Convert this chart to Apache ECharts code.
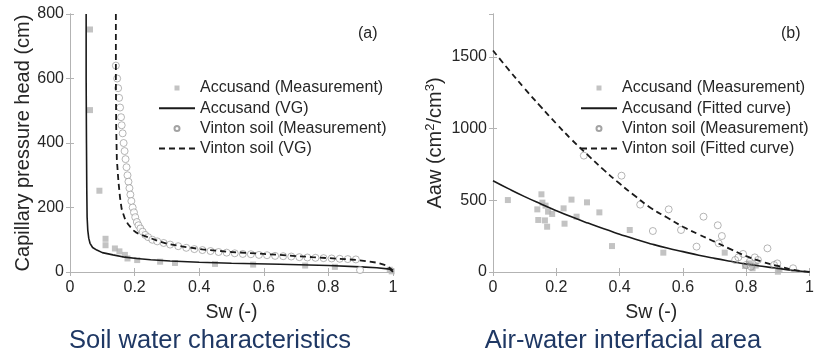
<!DOCTYPE html>
<html>
<head>
<meta charset="utf-8">
<script src="https://cdn.jsdelivr.net/npm/echarts@6/dist/echarts.min.js"></script>
<style>
  html, body { margin: 0; padding: 0; background: #fff; }
  #chart { width: 817px; height: 355px; }
</style>
</head>
<body>
<div id="chart"></div>
<script>
// ---- (a) Soil water characteristics: [Sw, capillary pressure head (cm)] ----
const accusandMeasA = [
  [0.062, 752], [0.062, 502], [0.091, 252], [0.110, 103], [0.110, 83], [0.139, 73],
  [0.153, 64], [0.170, 53], [0.178, 42], [0.208, 37], [0.279, 32], [0.325, 28],
  [0.449, 25], [0.567, 23], [0.728, 20], [0.820, 16], [0.990, 7], [0.996, 2]
];
const accusandVG = [
  [0.050, 800], [0.050, 600], [0.051, 400], [0.052, 250], [0.053, 170], [0.055, 130],
  [0.058, 105], [0.062, 89], [0.070, 76], [0.083, 68], [0.100, 60], [0.133, 53],
  [0.170, 46], [0.206, 42], [0.250, 38], [0.310, 34], [0.400, 30], [0.500, 27],
  [0.650, 24], [0.800, 20], [0.900, 16], [0.950, 13], [0.990, 9], [1.000, 0]
];
const vintonMeasA = [
  [0.142, 640], [0.146, 600], [0.149, 570], [0.152, 540], [0.155, 510], [0.158, 480],
  [0.160, 455], [0.163, 430], [0.166, 400], [0.169, 375], [0.172, 350], [0.175, 325],
  [0.178, 300], [0.181, 280], [0.184, 260], [0.187, 240], [0.190, 220], [0.194, 200],
  [0.198, 185], [0.202, 170], [0.207, 155], [0.212, 145], [0.218, 135], [0.225, 125],
  [0.233, 115], [0.242, 108], [0.255, 100], [0.270, 95], [0.290, 90], [0.310, 85],
  [0.335, 80], [0.360, 75], [0.385, 71], [0.410, 68], [0.435, 65], [0.460, 62],
  [0.485, 60], [0.510, 58], [0.535, 56], [0.560, 55], [0.585, 53], [0.610, 52],
  [0.635, 50], [0.660, 49], [0.685, 48], [0.710, 46], [0.735, 45], [0.760, 44],
  [0.785, 43], [0.810, 42], [0.835, 41], [0.860, 40], [0.885, 39], [0.898, 6]
];
const vintonVG = [
  [0.142, 800], [0.142, 600], [0.143, 450], [0.145, 350], [0.150, 280], [0.155, 230],
  [0.160, 195], [0.170, 165], [0.180, 148], [0.195, 130], [0.206, 122], [0.220, 115],
  [0.242, 108], [0.270, 97], [0.300, 88], [0.350, 79], [0.410, 70], [0.500, 62],
  [0.600, 56], [0.650, 53], [0.750, 46], [0.850, 40], [0.890, 37], [0.950, 29],
  [0.980, 20], [1.000, 5]
];

// ---- (b) Air-water interfacial area: [Sw, Aaw (cm2/cm3)] ----
const accusandMeasB = [
  [0.047, 502], [0.153, 542], [0.140, 437], [0.156, 484], [0.166, 463], [0.174, 421],
  [0.187, 405], [0.143, 363], [0.164, 360], [0.171, 316], [0.223, 444], [0.226, 337],
  [0.248, 505], [0.264, 386], [0.297, 486], [0.336, 416], [0.376, 181], [0.432, 293],
  [0.538, 135], [0.732, 135], [0.796, 42], [0.810, 60], [0.820, 26], [0.830, 45],
  [0.900, 2], [0.905, 14]
];
const vintonMeasB = [
  [0.287, 812], [0.406, 672], [0.465, 470], [0.505, 286], [0.555, 437], [0.594, 293],
  [0.643, 177], [0.665, 386], [0.710, 326], [0.713, 200], [0.723, 251], [0.765, 84],
  [0.775, 102], [0.790, 126], [0.800, 49], [0.811, 72], [0.815, 37], [0.827, 102],
  [0.837, 84], [0.867, 165], [0.888, 49], [0.898, 60], [0.948, 26]
];
const swFit = [0, 0.05, 0.1, 0.15, 0.2, 0.25, 0.3, 0.35, 0.4, 0.45, 0.5,
               0.55, 0.6, 0.65, 0.7, 0.75, 0.8, 0.85, 0.9, 0.95, 1];
const accusandFit = [637, 580, 526, 476, 428, 383, 341, 301, 264, 228, 196,
                     167, 142, 117, 95, 75, 56, 40, 25, 11, 0];
const vintonFit = [1545, 1410, 1280, 1155, 1035, 920, 815, 712, 617, 528, 445,
                   380, 316, 262, 212, 160, 111, 72, 42, 15, 0];

const swTicks = ['0', '0.2', '0.4', '0.6', '0.8', '1'];

const FONT = 'Arial, "Liberation Sans", Helvetica, sans-serif';
const TXT = '#262626';
const BOX = '#b3b3b3';
const GRAY = '#b4b4b4';
const CIRCLE = '#8c8c8c';
const pair = (xs, ys) => xs.map((x, i) => [x, ys[i]]);

function xAxes(gi) {
  const base = {
    type: 'value', gridIndex: gi, min: 0, max: 1, interval: 0.2,
    axisLine: { show: true, lineStyle: { color: BOX, width: 1 } },
    axisTick: { show: true, inside: true, length: 4, lineStyle: { color: BOX } },
    splitLine: { show: false }
  };
  return [
    Object.assign({}, base, {
      position: 'bottom',
      name: 'Sw (-)', nameLocation: 'middle', nameGap: 31,
      nameTextStyle: { fontFamily: FONT, fontSize: 19.5, color: TXT },
      axisLabel: { fontFamily: FONT, fontSize: 16, color: TXT, margin: 8,
                   formatter: v => swTicks[Math.round(v / 0.2)] }
    }),
    Object.assign({}, base, { position: 'top', axisLabel: { show: false } })
  ];
}

function yAxes(gi, max, interval, nameOpt) {
  const base = {
    type: 'value', gridIndex: gi, min: 0, max: max, interval: interval,
    axisLine: { show: true, lineStyle: { color: BOX, width: 1 } },
    axisTick: { show: true, inside: true, length: 4, lineStyle: { color: BOX } },
    splitLine: { show: false }
  };
  return [
    Object.assign({}, base, {
      position: 'left',
      name: nameOpt.text, nameLocation: 'middle', nameGap: nameOpt.gap, nameRotate: 90,
      nameTextStyle: { fontFamily: FONT, fontSize: 20, color: TXT, rich: nameOpt.rich },
      axisLabel: { fontFamily: FONT, fontSize: 16, color: TXT, margin: 6,
                   showMaxLabel: nameOpt.showMax, formatter: v => String(v) }
    }),
    Object.assign({}, base, { position: 'right', axisLabel: { show: false } })
  ];
}

const supRich = {
  sup: { fontFamily: FONT, fontSize: 13, color: TXT, verticalAlign: 'top', padding: [0, 0, 9, 0] }
};

const legendText = { fontFamily: FONT, fontSize: 16, color: TXT, lineHeight: 18 };
// marker entries use a small square; line entries show only their stroke
const squareKey = name => ({ name: name, icon: 'path://M0,0h10v10h-10z' });
const lineKey = name => ({ name: name, itemStyle: { opacity: 0 } });
const legendBase = {
  orient: 'vertical', top: 79, padding: 0, itemWidth: 36, itemHeight: 5, itemGap: 2.2,
  symbolKeepAspect: true, textStyle: legendText
};

const option = {
  animation: false,
  backgroundColor: '#fff',
  grid: [
    { left: 70, top: 14, width: 323, height: 258 },
    { left: 493, top: 14, width: 323, height: 258 }
  ],
  xAxis: [...xAxes(0), ...xAxes(1)],
  yAxis: [
    ...yAxes(0, 800, 200, { text: 'Capillary pressure head (cm)', gap: 36, rich: {}, showMax: true }),
    ...yAxes(1, 1800, 500, { text: 'Aaw (cm{sup|2}/cm{sup|3})', gap: 47, rich: supRich, showMax: false })
  ],
  legend: [
    Object.assign({}, legendBase, {
      left: 158,
      data: [squareKey('Accusand (Measurement)'), lineKey('Accusand (VG)'),
             'Vinton soil (Measurement)', lineKey('Vinton soil (VG)')]
    }),
    Object.assign({}, legendBase, {
      left: 580,
      data: [squareKey('Accusand (Measurement)'), lineKey('Accusand (Fitted curve)'),
             'Vinton soil (Measurement)', lineKey('Vinton soil (Fitted curve)')]
    })
  ],
  graphic: [
    { type: 'text', left: 358, top: 26, style: { text: '(a)', font: '16px ' + FONT, fill: TXT } },
    { type: 'text', left: 781, top: 26, style: { text: '(b)', font: '16px ' + FONT, fill: TXT } },
    { type: 'text', x: 210, y: 341, style: { text: 'Soil water characteristics', font: '25.5px ' + FONT,
      fill: '#1f3864', textAlign: 'center', textVerticalAlign: 'middle' } },
    { type: 'text', x: 623, y: 341, style: { text: 'Air-water interfacial area', font: '25.5px ' + FONT,
      fill: '#1f3864', textAlign: 'center', textVerticalAlign: 'middle' } }
  ],
  series: [
    // panel (a)
    { name: 'Accusand (Measurement)', type: 'scatter', xAxisIndex: 0, yAxisIndex: 0,
      symbol: 'rect', symbolSize: 6, itemStyle: { color: GRAY }, data: accusandMeasA, z: 2 },
    { name: 'Accusand (VG)', type: 'line', xAxisIndex: 0, yAxisIndex: 0, showSymbol: false,
      symbol: 'none', lineStyle: { color: '#1a1a1a', width: 1.6 }, itemStyle: { color: '#1a1a1a' },
      data: accusandVG, z: 3 },
    { name: 'Vinton soil (Measurement)', type: 'scatter', xAxisIndex: 0, yAxisIndex: 0,
      symbol: 'circle', symbolSize: 7,
      itemStyle: { color: '#fff', borderColor: CIRCLE, borderWidth: 0.8 }, data: vintonMeasA, z: 4 },
    { name: 'Vinton soil (VG)', type: 'line', xAxisIndex: 0, yAxisIndex: 0, showSymbol: false,
      symbol: 'none', lineStyle: { color: '#1a1a1a', width: 1.8, type: [6, 4] }, itemStyle: { color: '#1a1a1a' },
      data: vintonVG, z: 5 },
    // panel (b)
    { name: 'Accusand (Measurement)', type: 'scatter', xAxisIndex: 2, yAxisIndex: 2,
      symbol: 'rect', symbolSize: 6, itemStyle: { color: GRAY }, data: accusandMeasB, z: 2 },
    { name: 'Accusand (Fitted curve)', type: 'line', xAxisIndex: 2, yAxisIndex: 2, showSymbol: false,
      symbol: 'none', smooth: true, lineStyle: { color: '#1a1a1a', width: 1.6 }, itemStyle: { color: '#1a1a1a' },
      data: pair(swFit, accusandFit), z: 3 },
    { name: 'Vinton soil (Measurement)', type: 'scatter', xAxisIndex: 2, yAxisIndex: 2,
      symbol: 'circle', symbolSize: 7,
      itemStyle: { color: 'rgba(255,255,255,0)', borderColor: CIRCLE, borderWidth: 0.8 }, data: vintonMeasB, z: 4 },
    { name: 'Vinton soil (Fitted curve)', type: 'line', xAxisIndex: 2, yAxisIndex: 2, showSymbol: false,
      symbol: 'none', smooth: true, lineStyle: { color: '#1a1a1a', width: 1.8, type: [6, 4] }, itemStyle: { color: '#1a1a1a' },
      data: pair(swFit, vintonFit), z: 5 }
  ]
};

const chart = echarts.init(document.getElementById('chart'), null, { renderer: 'canvas' });
chart.setOption(option);
</script>
</body>
</html>
